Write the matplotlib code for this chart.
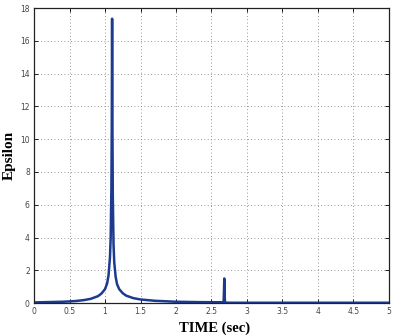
import matplotlib
matplotlib.use("Agg")
import matplotlib.pyplot as plt

time_s = [0.0, 0.2, 0.4, 0.5, 0.6, 0.7, 0.8, 0.9, 0.95, 1.0, 1.03, 1.05, 1.07, 1.08, 1.09, 1.095, 1.1,
          1.105, 1.11, 1.12, 1.13, 1.15, 1.17, 1.2, 1.25, 1.3, 1.4, 1.5, 1.7, 2.0, 2.3, 2.6, 2.67,
          2.675, 2.68, 2.685, 2.69, 2.75, 3.0, 3.5, 4.0, 4.5, 5.0]
epsilon = [0.04, 0.06, 0.08, 0.10, 0.13, 0.18, 0.26, 0.42, 0.58, 0.85, 1.2, 1.7, 2.8, 4.0, 7.0, 10.5, 17.35,
           10.5, 6.5, 3.6, 2.5, 1.6, 1.15, 0.85, 0.6, 0.45, 0.3, 0.22, 0.14, 0.08, 0.06, 0.05, 0.05,
           0.6, 1.5, 0.5, 0.03, 0.02, 0.02, 0.02, 0.02, 0.02, 0.02]

x_ticks = [0, 0.5, 1, 1.5, 2, 2.5, 3, 3.5, 4, 4.5, 5]
x_labels = ["0", "0.5", "1", "1.5", "2", "2.5", "3", "3.5", "4", "4.5", "5"]
y_ticks = [0, 2, 4, 6, 8, 10, 12, 14, 16, 18]

fig = plt.figure(figsize=(3.94, 3.36), dpi=100)
ax = fig.add_axes([0.0863, 0.098, 0.9010, 0.878])
ax.plot(time_s, epsilon, color="#1b3a90", linewidth=1.8)
ax.set_xlim(0, 5)
ax.set_ylim(0, 18)
ax.set_xticks(x_ticks)
ax.set_xticklabels(x_labels)
ax.set_yticks(y_ticks)
ax.grid(True, linestyle=(0, (1, 3)), color="#777777", linewidth=0.6)
ax.tick_params(direction="in", labelsize=5.5, labelcolor="#444444", length=3, width=0.6,
               top=True, right=True, pad=3)
for s in ax.spines.values():
    s.set_linewidth(0.9)
    s.set_color("#222222")
ax.set_xlabel("TIME (sec)", fontfamily="Liberation Serif", fontweight="bold", fontsize=10.5)
ax.set_ylabel("Epsilon", fontfamily="Liberation Serif", fontweight="bold", fontsize=11)
ax.xaxis.set_label_coords(0.51, -0.062)
ax.yaxis.set_label_coords(-0.052, 0.5)
fig.savefig("out.png", dpi=100)
